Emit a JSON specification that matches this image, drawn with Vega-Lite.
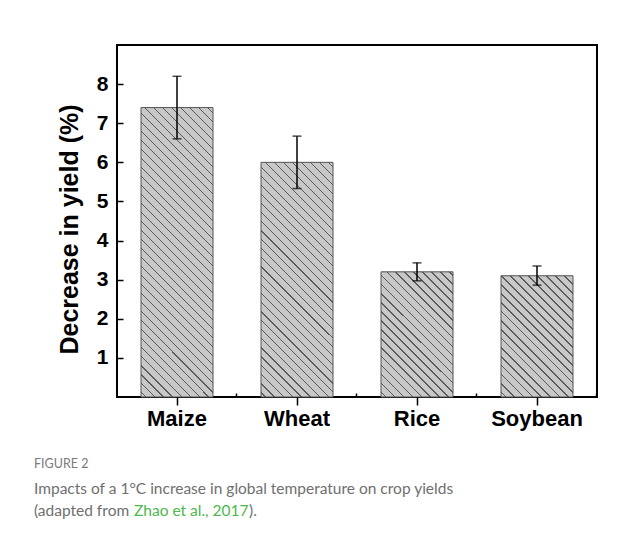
{
  "$schema": "https://vega.github.io/schema/vega-lite/v6.json",
  "width": 480,
  "height": 352,
  "autosize": {"type": "none"},
  "padding": {"left": 117, "top": 45, "right": 45, "bottom": 147},
  "background": "white",
  "config": {
    "view": {"stroke": "black", "strokeWidth": 2},
    "font": "Liberation Sans",
    "axis": {"grid": false}
  },
  "data": {
    "values": [
      {"crop": "Maize", "value": 7.4, "lo": 6.6, "hi": 8.2},
      {"crop": "Wheat", "value": 6.0, "lo": 5.33, "hi": 6.67},
      {"crop": "Rice", "value": 3.2, "lo": 2.97, "hi": 3.43},
      {"crop": "Soybean", "value": 3.1, "lo": 2.86, "hi": 3.35}
    ]
  },
  "resolve": {"axis": {"x": "independent"}},
  "layer": [
    {
      "data": {"values": [{}]},
      "mark": {"type": "rule", "x": -110, "y": -39, "y2": 520, "stroke": "#b0b0b0", "strokeWidth": 2},
      "encoding": {}
    },
    {
      "data": {"values": [{}]},
      "mark": {"type": "rule", "x": -110, "x2": 540, "y": -39, "stroke": "#b8b8b8", "strokeWidth": 2},
      "encoding": {}
    },
    {
      "mark": {"type": "bar", "fill": "#c8c8c8", "strokeWidth": 0},
      "encoding": {
        "x": {
          "field": "crop", "type": "nominal", "sort": null,
          "scale": {"domain": ["Maize", "Wheat", "Rice", "Soybean"], "paddingInner": 0.4, "paddingOuter": 0.2},
          "axis": {
            "orient": "bottom", "title": null, "domain": false,
            "tickSize": 8, "tickWidth": 1.5, "tickColor": "black",
            "labelAngle": 0, "labelFont": "Liberation Sans", "labelFontSize": 22,
            "labelFontWeight": "bold", "labelColor": "black", "labelPadding": 3, "zindex": 1
          }
        },
        "y": {
          "field": "value", "type": "quantitative",
          "scale": {"domain": [0, 9], "nice": false, "zero": true},
          "axis": {
            "values": [1, 2, 3, 4, 5, 6, 7, 8], "grid": false, "domain": false,
            "offset": -6, "tickSize": 6, "tickWidth": 1.5, "tickColor": "black",
            "labelFont": "Liberation Sans", "labelFontSize": 21, "labelFontWeight": "bold",
            "labelColor": "black", "labelPadding": 9,
            "title": "Decrease in yield (%)", "titleFont": "Liberation Sans",
            "titleFontSize": 25, "titleFontWeight": "bold", "titleColor": "black",
            "titleX": -41, "titleY": 184, "zindex": 1
          }
        }
      }
    },
    {
      "transform": [{"filter": "datum.crop === 'Maize'"}],
      "mark": {"type": "bar", "stroke": "#555555", "strokeWidth": 1,
        "fill": {"gradient": "linear", "x1": 0, "y1": 1, "x2": 0.29256, "y2": -0.176,
          "stops": [
            {"offset": 0, "color": "#c8c8c8"},
            {"offset": 0.01107, "color": "#c8c8c8"}, {"offset": 0.01107, "color": "#5a5a5a"}, {"offset": 0.01466, "color": "#5a5a5a"}, {"offset": 0.01466, "color": "#c8c8c8"},
            {"offset": 0.03597, "color": "#c8c8c8"}, {"offset": 0.03597, "color": "#5a5a5a"}, {"offset": 0.03957, "color": "#5a5a5a"}, {"offset": 0.03957, "color": "#c8c8c8"},
            {"offset": 0.06087, "color": "#c8c8c8"}, {"offset": 0.06087, "color": "#5a5a5a"}, {"offset": 0.06447, "color": "#5a5a5a"}, {"offset": 0.06447, "color": "#c8c8c8"},
            {"offset": 0.08577, "color": "#c8c8c8"}, {"offset": 0.08577, "color": "#5a5a5a"}, {"offset": 0.08937, "color": "#5a5a5a"}, {"offset": 0.08937, "color": "#c8c8c8"},
            {"offset": 0.11068, "color": "#c8c8c8"}, {"offset": 0.11068, "color": "#5a5a5a"}, {"offset": 0.11427, "color": "#5a5a5a"}, {"offset": 0.11427, "color": "#c8c8c8"},
            {"offset": 0.13558, "color": "#c8c8c8"}, {"offset": 0.13558, "color": "#5a5a5a"}, {"offset": 0.13917, "color": "#5a5a5a"}, {"offset": 0.13917, "color": "#c8c8c8"},
            {"offset": 0.16048, "color": "#c8c8c8"}, {"offset": 0.16048, "color": "#5a5a5a"}, {"offset": 0.16408, "color": "#5a5a5a"}, {"offset": 0.16408, "color": "#c8c8c8"},
            {"offset": 0.18538, "color": "#c8c8c8"}, {"offset": 0.18538, "color": "#5a5a5a"}, {"offset": 0.18898, "color": "#5a5a5a"}, {"offset": 0.18898, "color": "#c8c8c8"},
            {"offset": 0.21028, "color": "#c8c8c8"}, {"offset": 0.21028, "color": "#5a5a5a"}, {"offset": 0.21388, "color": "#5a5a5a"}, {"offset": 0.21388, "color": "#c8c8c8"},
            {"offset": 0.23519, "color": "#c8c8c8"}, {"offset": 0.23519, "color": "#5a5a5a"}, {"offset": 0.23878, "color": "#5a5a5a"}, {"offset": 0.23878, "color": "#c8c8c8"},
            {"offset": 0.26009, "color": "#c8c8c8"}, {"offset": 0.26009, "color": "#5a5a5a"}, {"offset": 0.26368, "color": "#5a5a5a"}, {"offset": 0.26368, "color": "#c8c8c8"},
            {"offset": 0.28499, "color": "#c8c8c8"}, {"offset": 0.28499, "color": "#5a5a5a"}, {"offset": 0.28859, "color": "#5a5a5a"}, {"offset": 0.28859, "color": "#c8c8c8"},
            {"offset": 0.30989, "color": "#c8c8c8"}, {"offset": 0.30989, "color": "#5a5a5a"}, {"offset": 0.31349, "color": "#5a5a5a"}, {"offset": 0.31349, "color": "#c8c8c8"},
            {"offset": 0.33479, "color": "#c8c8c8"}, {"offset": 0.33479, "color": "#5a5a5a"}, {"offset": 0.33839, "color": "#5a5a5a"}, {"offset": 0.33839, "color": "#c8c8c8"},
            {"offset": 0.3597, "color": "#c8c8c8"}, {"offset": 0.3597, "color": "#5a5a5a"}, {"offset": 0.36329, "color": "#5a5a5a"}, {"offset": 0.36329, "color": "#c8c8c8"},
            {"offset": 0.3846, "color": "#c8c8c8"}, {"offset": 0.3846, "color": "#5a5a5a"}, {"offset": 0.38819, "color": "#5a5a5a"}, {"offset": 0.38819, "color": "#c8c8c8"},
            {"offset": 0.4095, "color": "#c8c8c8"}, {"offset": 0.4095, "color": "#5a5a5a"}, {"offset": 0.4131, "color": "#5a5a5a"}, {"offset": 0.4131, "color": "#c8c8c8"},
            {"offset": 0.4344, "color": "#c8c8c8"}, {"offset": 0.4344, "color": "#5a5a5a"}, {"offset": 0.438, "color": "#5a5a5a"}, {"offset": 0.438, "color": "#c8c8c8"},
            {"offset": 0.4593, "color": "#c8c8c8"}, {"offset": 0.4593, "color": "#5a5a5a"}, {"offset": 0.4629, "color": "#5a5a5a"}, {"offset": 0.4629, "color": "#c8c8c8"},
            {"offset": 0.48421, "color": "#c8c8c8"}, {"offset": 0.48421, "color": "#5a5a5a"}, {"offset": 0.4878, "color": "#5a5a5a"}, {"offset": 0.4878, "color": "#c8c8c8"},
            {"offset": 0.50911, "color": "#c8c8c8"}, {"offset": 0.50911, "color": "#5a5a5a"}, {"offset": 0.5127, "color": "#5a5a5a"}, {"offset": 0.5127, "color": "#c8c8c8"},
            {"offset": 0.53401, "color": "#c8c8c8"}, {"offset": 0.53401, "color": "#5a5a5a"}, {"offset": 0.53761, "color": "#5a5a5a"}, {"offset": 0.53761, "color": "#c8c8c8"},
            {"offset": 0.55891, "color": "#c8c8c8"}, {"offset": 0.55891, "color": "#5a5a5a"}, {"offset": 0.56251, "color": "#5a5a5a"}, {"offset": 0.56251, "color": "#c8c8c8"},
            {"offset": 0.58381, "color": "#c8c8c8"}, {"offset": 0.58381, "color": "#5a5a5a"}, {"offset": 0.58741, "color": "#5a5a5a"}, {"offset": 0.58741, "color": "#c8c8c8"},
            {"offset": 0.60872, "color": "#c8c8c8"}, {"offset": 0.60872, "color": "#5a5a5a"}, {"offset": 0.61231, "color": "#5a5a5a"}, {"offset": 0.61231, "color": "#c8c8c8"},
            {"offset": 0.63362, "color": "#c8c8c8"}, {"offset": 0.63362, "color": "#5a5a5a"}, {"offset": 0.63721, "color": "#5a5a5a"}, {"offset": 0.63721, "color": "#c8c8c8"},
            {"offset": 0.65852, "color": "#c8c8c8"}, {"offset": 0.65852, "color": "#5a5a5a"}, {"offset": 0.66212, "color": "#5a5a5a"}, {"offset": 0.66212, "color": "#c8c8c8"},
            {"offset": 0.68342, "color": "#c8c8c8"}, {"offset": 0.68342, "color": "#5a5a5a"}, {"offset": 0.68702, "color": "#5a5a5a"}, {"offset": 0.68702, "color": "#c8c8c8"},
            {"offset": 0.70832, "color": "#c8c8c8"}, {"offset": 0.70832, "color": "#5a5a5a"}, {"offset": 0.71192, "color": "#5a5a5a"}, {"offset": 0.71192, "color": "#c8c8c8"},
            {"offset": 0.73323, "color": "#c8c8c8"}, {"offset": 0.73323, "color": "#5a5a5a"}, {"offset": 0.73682, "color": "#5a5a5a"}, {"offset": 0.73682, "color": "#c8c8c8"},
            {"offset": 0.75813, "color": "#c8c8c8"}, {"offset": 0.75813, "color": "#5a5a5a"}, {"offset": 0.76172, "color": "#5a5a5a"}, {"offset": 0.76172, "color": "#c8c8c8"},
            {"offset": 0.78303, "color": "#c8c8c8"}, {"offset": 0.78303, "color": "#5a5a5a"}, {"offset": 0.78663, "color": "#5a5a5a"}, {"offset": 0.78663, "color": "#c8c8c8"},
            {"offset": 0.80793, "color": "#c8c8c8"}, {"offset": 0.80793, "color": "#5a5a5a"}, {"offset": 0.81153, "color": "#5a5a5a"}, {"offset": 0.81153, "color": "#c8c8c8"},
            {"offset": 0.83283, "color": "#c8c8c8"}, {"offset": 0.83283, "color": "#5a5a5a"}, {"offset": 0.83643, "color": "#5a5a5a"}, {"offset": 0.83643, "color": "#c8c8c8"},
            {"offset": 0.85774, "color": "#c8c8c8"}, {"offset": 0.85774, "color": "#5a5a5a"}, {"offset": 0.86133, "color": "#5a5a5a"}, {"offset": 0.86133, "color": "#c8c8c8"},
            {"offset": 0.88264, "color": "#c8c8c8"}, {"offset": 0.88264, "color": "#5a5a5a"}, {"offset": 0.88623, "color": "#5a5a5a"}, {"offset": 0.88623, "color": "#c8c8c8"},
            {"offset": 0.90754, "color": "#c8c8c8"}, {"offset": 0.90754, "color": "#5a5a5a"}, {"offset": 0.91114, "color": "#5a5a5a"}, {"offset": 0.91114, "color": "#c8c8c8"},
            {"offset": 0.93244, "color": "#c8c8c8"}, {"offset": 0.93244, "color": "#5a5a5a"}, {"offset": 0.93604, "color": "#5a5a5a"}, {"offset": 0.93604, "color": "#c8c8c8"},
            {"offset": 0.95734, "color": "#c8c8c8"}, {"offset": 0.95734, "color": "#5a5a5a"}, {"offset": 0.96094, "color": "#5a5a5a"}, {"offset": 0.96094, "color": "#c8c8c8"},
            {"offset": 0.98225, "color": "#c8c8c8"}, {"offset": 0.98225, "color": "#5a5a5a"}, {"offset": 0.98584, "color": "#5a5a5a"}, {"offset": 0.98584, "color": "#c8c8c8"},
            {"offset": 1, "color": "#c8c8c8"}
          ]}},
      "encoding": {
        "x": {"field": "crop", "type": "nominal", "sort": null, "axis": null},
        "y": {"field": "value", "type": "quantitative"}
      }
    },
    {
      "transform": [{"filter": "datum.crop === 'Wheat'"}],
      "mark": {"type": "bar", "stroke": "#555555", "strokeWidth": 1,
        "fill": {"gradient": "linear", "x1": 0, "y1": 1, "x2": 0.36646, "y2": -0.19439,
          "stops": [
            {"offset": 0, "color": "#c8c8c8"},
            {"offset": 0.01304, "color": "#c8c8c8"}, {"offset": 0.01304, "color": "#5a5a5a"}, {"offset": 0.01728, "color": "#5a5a5a"}, {"offset": 0.01728, "color": "#c8c8c8"},
            {"offset": 0.04239, "color": "#c8c8c8"}, {"offset": 0.04239, "color": "#5a5a5a"}, {"offset": 0.04663, "color": "#5a5a5a"}, {"offset": 0.04663, "color": "#c8c8c8"},
            {"offset": 0.07174, "color": "#c8c8c8"}, {"offset": 0.07174, "color": "#5a5a5a"}, {"offset": 0.07598, "color": "#5a5a5a"}, {"offset": 0.07598, "color": "#c8c8c8"},
            {"offset": 0.10109, "color": "#c8c8c8"}, {"offset": 0.10109, "color": "#5a5a5a"}, {"offset": 0.10533, "color": "#5a5a5a"}, {"offset": 0.10533, "color": "#c8c8c8"},
            {"offset": 0.13043, "color": "#c8c8c8"}, {"offset": 0.13043, "color": "#5a5a5a"}, {"offset": 0.13467, "color": "#5a5a5a"}, {"offset": 0.13467, "color": "#c8c8c8"},
            {"offset": 0.15978, "color": "#c8c8c8"}, {"offset": 0.15978, "color": "#5a5a5a"}, {"offset": 0.16402, "color": "#5a5a5a"}, {"offset": 0.16402, "color": "#c8c8c8"},
            {"offset": 0.18913, "color": "#c8c8c8"}, {"offset": 0.18913, "color": "#5a5a5a"}, {"offset": 0.19337, "color": "#5a5a5a"}, {"offset": 0.19337, "color": "#c8c8c8"},
            {"offset": 0.21848, "color": "#c8c8c8"}, {"offset": 0.21848, "color": "#5a5a5a"}, {"offset": 0.22272, "color": "#5a5a5a"}, {"offset": 0.22272, "color": "#c8c8c8"},
            {"offset": 0.24783, "color": "#c8c8c8"}, {"offset": 0.24783, "color": "#5a5a5a"}, {"offset": 0.25207, "color": "#5a5a5a"}, {"offset": 0.25207, "color": "#c8c8c8"},
            {"offset": 0.27717, "color": "#c8c8c8"}, {"offset": 0.27717, "color": "#5a5a5a"}, {"offset": 0.28141, "color": "#5a5a5a"}, {"offset": 0.28141, "color": "#c8c8c8"},
            {"offset": 0.30652, "color": "#c8c8c8"}, {"offset": 0.30652, "color": "#5a5a5a"}, {"offset": 0.31076, "color": "#5a5a5a"}, {"offset": 0.31076, "color": "#c8c8c8"},
            {"offset": 0.33587, "color": "#c8c8c8"}, {"offset": 0.33587, "color": "#5a5a5a"}, {"offset": 0.34011, "color": "#5a5a5a"}, {"offset": 0.34011, "color": "#c8c8c8"},
            {"offset": 0.36522, "color": "#c8c8c8"}, {"offset": 0.36522, "color": "#5a5a5a"}, {"offset": 0.36946, "color": "#5a5a5a"}, {"offset": 0.36946, "color": "#c8c8c8"},
            {"offset": 0.39457, "color": "#c8c8c8"}, {"offset": 0.39457, "color": "#5a5a5a"}, {"offset": 0.39881, "color": "#5a5a5a"}, {"offset": 0.39881, "color": "#c8c8c8"},
            {"offset": 0.42391, "color": "#c8c8c8"}, {"offset": 0.42391, "color": "#5a5a5a"}, {"offset": 0.42815, "color": "#5a5a5a"}, {"offset": 0.42815, "color": "#c8c8c8"},
            {"offset": 0.45326, "color": "#c8c8c8"}, {"offset": 0.45326, "color": "#5a5a5a"}, {"offset": 0.4575, "color": "#5a5a5a"}, {"offset": 0.4575, "color": "#c8c8c8"},
            {"offset": 0.48261, "color": "#c8c8c8"}, {"offset": 0.48261, "color": "#5a5a5a"}, {"offset": 0.48685, "color": "#5a5a5a"}, {"offset": 0.48685, "color": "#c8c8c8"},
            {"offset": 0.51196, "color": "#c8c8c8"}, {"offset": 0.51196, "color": "#5a5a5a"}, {"offset": 0.5162, "color": "#5a5a5a"}, {"offset": 0.5162, "color": "#c8c8c8"},
            {"offset": 0.5413, "color": "#c8c8c8"}, {"offset": 0.5413, "color": "#5a5a5a"}, {"offset": 0.54554, "color": "#5a5a5a"}, {"offset": 0.54554, "color": "#c8c8c8"},
            {"offset": 0.57065, "color": "#c8c8c8"}, {"offset": 0.57065, "color": "#5a5a5a"}, {"offset": 0.57489, "color": "#5a5a5a"}, {"offset": 0.57489, "color": "#c8c8c8"},
            {"offset": 0.6, "color": "#c8c8c8"}, {"offset": 0.6, "color": "#5a5a5a"}, {"offset": 0.60424, "color": "#5a5a5a"}, {"offset": 0.60424, "color": "#c8c8c8"},
            {"offset": 0.62935, "color": "#c8c8c8"}, {"offset": 0.62935, "color": "#5a5a5a"}, {"offset": 0.63359, "color": "#5a5a5a"}, {"offset": 0.63359, "color": "#c8c8c8"},
            {"offset": 0.6587, "color": "#c8c8c8"}, {"offset": 0.6587, "color": "#5a5a5a"}, {"offset": 0.66294, "color": "#5a5a5a"}, {"offset": 0.66294, "color": "#c8c8c8"},
            {"offset": 0.68804, "color": "#c8c8c8"}, {"offset": 0.68804, "color": "#5a5a5a"}, {"offset": 0.69228, "color": "#5a5a5a"}, {"offset": 0.69228, "color": "#c8c8c8"},
            {"offset": 0.71739, "color": "#c8c8c8"}, {"offset": 0.71739, "color": "#5a5a5a"}, {"offset": 0.72163, "color": "#5a5a5a"}, {"offset": 0.72163, "color": "#c8c8c8"},
            {"offset": 0.74674, "color": "#c8c8c8"}, {"offset": 0.74674, "color": "#5a5a5a"}, {"offset": 0.75098, "color": "#5a5a5a"}, {"offset": 0.75098, "color": "#c8c8c8"},
            {"offset": 0.77609, "color": "#c8c8c8"}, {"offset": 0.77609, "color": "#5a5a5a"}, {"offset": 0.78033, "color": "#5a5a5a"}, {"offset": 0.78033, "color": "#c8c8c8"},
            {"offset": 0.80544, "color": "#c8c8c8"}, {"offset": 0.80544, "color": "#5a5a5a"}, {"offset": 0.80968, "color": "#5a5a5a"}, {"offset": 0.80968, "color": "#c8c8c8"},
            {"offset": 0.83478, "color": "#c8c8c8"}, {"offset": 0.83478, "color": "#5a5a5a"}, {"offset": 0.83902, "color": "#5a5a5a"}, {"offset": 0.83902, "color": "#c8c8c8"},
            {"offset": 0.86413, "color": "#c8c8c8"}, {"offset": 0.86413, "color": "#5a5a5a"}, {"offset": 0.86837, "color": "#5a5a5a"}, {"offset": 0.86837, "color": "#c8c8c8"},
            {"offset": 0.89348, "color": "#c8c8c8"}, {"offset": 0.89348, "color": "#5a5a5a"}, {"offset": 0.89772, "color": "#5a5a5a"}, {"offset": 0.89772, "color": "#c8c8c8"},
            {"offset": 0.92283, "color": "#c8c8c8"}, {"offset": 0.92283, "color": "#5a5a5a"}, {"offset": 0.92707, "color": "#5a5a5a"}, {"offset": 0.92707, "color": "#c8c8c8"},
            {"offset": 0.95217, "color": "#c8c8c8"}, {"offset": 0.95217, "color": "#5a5a5a"}, {"offset": 0.95641, "color": "#5a5a5a"}, {"offset": 0.95641, "color": "#c8c8c8"},
            {"offset": 0.98152, "color": "#c8c8c8"}, {"offset": 0.98152, "color": "#5a5a5a"}, {"offset": 0.98576, "color": "#5a5a5a"}, {"offset": 0.98576, "color": "#c8c8c8"},
            {"offset": 1, "color": "#c8c8c8"}
          ]}},
      "encoding": {
        "x": {"field": "crop", "type": "nominal", "sort": null, "axis": null},
        "y": {"field": "value", "type": "quantitative"}
      }
    },
    {
      "transform": [{"filter": "datum.crop === 'Rice'"}],
      "mark": {"type": "bar", "stroke": "#555555", "strokeWidth": 1,
        "fill": {"gradient": "linear", "x1": 0, "y1": 1, "x2": 0.68089, "y2": -0.18358,
          "stops": [
            {"offset": 0, "color": "#c8c8c8"},
            {"offset": 0.02029, "color": "#c8c8c8"}, {"offset": 0.02029, "color": "#5a5a5a"}, {"offset": 0.02688, "color": "#5a5a5a"}, {"offset": 0.02688, "color": "#c8c8c8"},
            {"offset": 0.06594, "color": "#c8c8c8"}, {"offset": 0.06594, "color": "#5a5a5a"}, {"offset": 0.07253, "color": "#5a5a5a"}, {"offset": 0.07253, "color": "#c8c8c8"},
            {"offset": 0.11159, "color": "#c8c8c8"}, {"offset": 0.11159, "color": "#5a5a5a"}, {"offset": 0.11818, "color": "#5a5a5a"}, {"offset": 0.11818, "color": "#c8c8c8"},
            {"offset": 0.15724, "color": "#c8c8c8"}, {"offset": 0.15724, "color": "#5a5a5a"}, {"offset": 0.16383, "color": "#5a5a5a"}, {"offset": 0.16383, "color": "#c8c8c8"},
            {"offset": 0.20289, "color": "#c8c8c8"}, {"offset": 0.20289, "color": "#5a5a5a"}, {"offset": 0.20948, "color": "#5a5a5a"}, {"offset": 0.20948, "color": "#c8c8c8"},
            {"offset": 0.24853, "color": "#c8c8c8"}, {"offset": 0.24853, "color": "#5a5a5a"}, {"offset": 0.25513, "color": "#5a5a5a"}, {"offset": 0.25513, "color": "#c8c8c8"},
            {"offset": 0.29418, "color": "#c8c8c8"}, {"offset": 0.29418, "color": "#5a5a5a"}, {"offset": 0.30078, "color": "#5a5a5a"}, {"offset": 0.30078, "color": "#c8c8c8"},
            {"offset": 0.33983, "color": "#c8c8c8"}, {"offset": 0.33983, "color": "#5a5a5a"}, {"offset": 0.34643, "color": "#5a5a5a"}, {"offset": 0.34643, "color": "#c8c8c8"},
            {"offset": 0.38548, "color": "#c8c8c8"}, {"offset": 0.38548, "color": "#5a5a5a"}, {"offset": 0.39208, "color": "#5a5a5a"}, {"offset": 0.39208, "color": "#c8c8c8"},
            {"offset": 0.43113, "color": "#c8c8c8"}, {"offset": 0.43113, "color": "#5a5a5a"}, {"offset": 0.43772, "color": "#5a5a5a"}, {"offset": 0.43772, "color": "#c8c8c8"},
            {"offset": 0.47678, "color": "#c8c8c8"}, {"offset": 0.47678, "color": "#5a5a5a"}, {"offset": 0.48337, "color": "#5a5a5a"}, {"offset": 0.48337, "color": "#c8c8c8"},
            {"offset": 0.52243, "color": "#c8c8c8"}, {"offset": 0.52243, "color": "#5a5a5a"}, {"offset": 0.52902, "color": "#5a5a5a"}, {"offset": 0.52902, "color": "#c8c8c8"},
            {"offset": 0.56808, "color": "#c8c8c8"}, {"offset": 0.56808, "color": "#5a5a5a"}, {"offset": 0.57467, "color": "#5a5a5a"}, {"offset": 0.57467, "color": "#c8c8c8"},
            {"offset": 0.61373, "color": "#c8c8c8"}, {"offset": 0.61373, "color": "#5a5a5a"}, {"offset": 0.62032, "color": "#5a5a5a"}, {"offset": 0.62032, "color": "#c8c8c8"},
            {"offset": 0.65938, "color": "#c8c8c8"}, {"offset": 0.65938, "color": "#5a5a5a"}, {"offset": 0.66597, "color": "#5a5a5a"}, {"offset": 0.66597, "color": "#c8c8c8"},
            {"offset": 0.70502, "color": "#c8c8c8"}, {"offset": 0.70502, "color": "#5a5a5a"}, {"offset": 0.71162, "color": "#5a5a5a"}, {"offset": 0.71162, "color": "#c8c8c8"},
            {"offset": 0.75067, "color": "#c8c8c8"}, {"offset": 0.75067, "color": "#5a5a5a"}, {"offset": 0.75727, "color": "#5a5a5a"}, {"offset": 0.75727, "color": "#c8c8c8"},
            {"offset": 0.79632, "color": "#c8c8c8"}, {"offset": 0.79632, "color": "#5a5a5a"}, {"offset": 0.80292, "color": "#5a5a5a"}, {"offset": 0.80292, "color": "#c8c8c8"},
            {"offset": 0.84197, "color": "#c8c8c8"}, {"offset": 0.84197, "color": "#5a5a5a"}, {"offset": 0.84857, "color": "#5a5a5a"}, {"offset": 0.84857, "color": "#c8c8c8"},
            {"offset": 0.88762, "color": "#c8c8c8"}, {"offset": 0.88762, "color": "#5a5a5a"}, {"offset": 0.89421, "color": "#5a5a5a"}, {"offset": 0.89421, "color": "#c8c8c8"},
            {"offset": 0.93327, "color": "#c8c8c8"}, {"offset": 0.93327, "color": "#5a5a5a"}, {"offset": 0.93986, "color": "#5a5a5a"}, {"offset": 0.93986, "color": "#c8c8c8"},
            {"offset": 0.97892, "color": "#c8c8c8"}, {"offset": 0.97892, "color": "#5a5a5a"}, {"offset": 0.98551, "color": "#5a5a5a"}, {"offset": 0.98551, "color": "#c8c8c8"},
            {"offset": 1, "color": "#c8c8c8"}
          ]}},
      "encoding": {
        "x": {"field": "crop", "type": "nominal", "sort": null, "axis": null},
        "y": {"field": "value", "type": "quantitative"}
      }
    },
    {
      "transform": [{"filter": "datum.crop === 'Soybean'"}],
      "mark": {"type": "bar", "stroke": "#555555", "strokeWidth": 1,
        "fill": {"gradient": "linear", "x1": 0, "y1": 1, "x2": 0.69973, "y2": -0.17831,
          "stops": [
            {"offset": 0, "color": "#c8c8c8"},
            {"offset": 0.0207, "color": "#c8c8c8"}, {"offset": 0.0207, "color": "#5a5a5a"}, {"offset": 0.02743, "color": "#5a5a5a"}, {"offset": 0.02743, "color": "#c8c8c8"},
            {"offset": 0.06727, "color": "#c8c8c8"}, {"offset": 0.06727, "color": "#5a5a5a"}, {"offset": 0.074, "color": "#5a5a5a"}, {"offset": 0.074, "color": "#c8c8c8"},
            {"offset": 0.11385, "color": "#c8c8c8"}, {"offset": 0.11385, "color": "#5a5a5a"}, {"offset": 0.12057, "color": "#5a5a5a"}, {"offset": 0.12057, "color": "#c8c8c8"},
            {"offset": 0.16042, "color": "#c8c8c8"}, {"offset": 0.16042, "color": "#5a5a5a"}, {"offset": 0.16715, "color": "#5a5a5a"}, {"offset": 0.16715, "color": "#c8c8c8"},
            {"offset": 0.20699, "color": "#c8c8c8"}, {"offset": 0.20699, "color": "#5a5a5a"}, {"offset": 0.21372, "color": "#5a5a5a"}, {"offset": 0.21372, "color": "#c8c8c8"},
            {"offset": 0.25356, "color": "#c8c8c8"}, {"offset": 0.25356, "color": "#5a5a5a"}, {"offset": 0.26029, "color": "#5a5a5a"}, {"offset": 0.26029, "color": "#c8c8c8"},
            {"offset": 0.30014, "color": "#c8c8c8"}, {"offset": 0.30014, "color": "#5a5a5a"}, {"offset": 0.30686, "color": "#5a5a5a"}, {"offset": 0.30686, "color": "#c8c8c8"},
            {"offset": 0.34671, "color": "#c8c8c8"}, {"offset": 0.34671, "color": "#5a5a5a"}, {"offset": 0.35344, "color": "#5a5a5a"}, {"offset": 0.35344, "color": "#c8c8c8"},
            {"offset": 0.39328, "color": "#c8c8c8"}, {"offset": 0.39328, "color": "#5a5a5a"}, {"offset": 0.40001, "color": "#5a5a5a"}, {"offset": 0.40001, "color": "#c8c8c8"},
            {"offset": 0.43986, "color": "#c8c8c8"}, {"offset": 0.43986, "color": "#5a5a5a"}, {"offset": 0.44658, "color": "#5a5a5a"}, {"offset": 0.44658, "color": "#c8c8c8"},
            {"offset": 0.48643, "color": "#c8c8c8"}, {"offset": 0.48643, "color": "#5a5a5a"}, {"offset": 0.49315, "color": "#5a5a5a"}, {"offset": 0.49315, "color": "#c8c8c8"},
            {"offset": 0.533, "color": "#c8c8c8"}, {"offset": 0.533, "color": "#5a5a5a"}, {"offset": 0.53973, "color": "#5a5a5a"}, {"offset": 0.53973, "color": "#c8c8c8"},
            {"offset": 0.57957, "color": "#c8c8c8"}, {"offset": 0.57957, "color": "#5a5a5a"}, {"offset": 0.5863, "color": "#5a5a5a"}, {"offset": 0.5863, "color": "#c8c8c8"},
            {"offset": 0.62615, "color": "#c8c8c8"}, {"offset": 0.62615, "color": "#5a5a5a"}, {"offset": 0.63287, "color": "#5a5a5a"}, {"offset": 0.63287, "color": "#c8c8c8"},
            {"offset": 0.67272, "color": "#c8c8c8"}, {"offset": 0.67272, "color": "#5a5a5a"}, {"offset": 0.67945, "color": "#5a5a5a"}, {"offset": 0.67945, "color": "#c8c8c8"},
            {"offset": 0.71929, "color": "#c8c8c8"}, {"offset": 0.71929, "color": "#5a5a5a"}, {"offset": 0.72602, "color": "#5a5a5a"}, {"offset": 0.72602, "color": "#c8c8c8"},
            {"offset": 0.76587, "color": "#c8c8c8"}, {"offset": 0.76587, "color": "#5a5a5a"}, {"offset": 0.77259, "color": "#5a5a5a"}, {"offset": 0.77259, "color": "#c8c8c8"},
            {"offset": 0.81244, "color": "#c8c8c8"}, {"offset": 0.81244, "color": "#5a5a5a"}, {"offset": 0.81917, "color": "#5a5a5a"}, {"offset": 0.81917, "color": "#c8c8c8"},
            {"offset": 0.85901, "color": "#c8c8c8"}, {"offset": 0.85901, "color": "#5a5a5a"}, {"offset": 0.86574, "color": "#5a5a5a"}, {"offset": 0.86574, "color": "#c8c8c8"},
            {"offset": 0.90558, "color": "#c8c8c8"}, {"offset": 0.90558, "color": "#5a5a5a"}, {"offset": 0.91231, "color": "#5a5a5a"}, {"offset": 0.91231, "color": "#c8c8c8"},
            {"offset": 0.95216, "color": "#c8c8c8"}, {"offset": 0.95216, "color": "#5a5a5a"}, {"offset": 0.95888, "color": "#5a5a5a"}, {"offset": 0.95888, "color": "#c8c8c8"},
            {"offset": 1, "color": "#c8c8c8"}
          ]}},
      "encoding": {
        "x": {"field": "crop", "type": "nominal", "sort": null, "axis": null},
        "y": {"field": "value", "type": "quantitative"}
      }
    },
    {
      "mark": {"type": "rule", "color": "black", "strokeWidth": 1.5},
      "encoding": {
        "x": {
          "field": "crop", "type": "nominal", "sort": null,
          "axis": {
            "orient": "bottom", "title": null, "labels": false, "domain": false,
            "tickSize": -4, "tickWidth": 1.5, "tickColor": "black",
            "bandPosition": 1.3333, "zindex": 1
          }
        },
        "y": {"field": "lo", "type": "quantitative"},
        "y2": {"field": "hi"}
      }
    },
    {
      "mark": {"type": "tick", "color": "black", "thickness": 1.5, "size": 9},
      "encoding": {
        "x": {"field": "crop", "type": "nominal", "sort": null, "axis": null},
        "y": {"field": "hi", "type": "quantitative"}
      }
    },
    {
      "mark": {"type": "tick", "color": "black", "thickness": 1.5, "size": 9},
      "encoding": {
        "x": {"field": "crop", "type": "nominal", "sort": null, "axis": null},
        "y": {"field": "lo", "type": "quantitative"}
      }
    },
    {
      "data": {"values": [{}]},
      "mark": {"type": "text", "text": "FIGURE 2", "x": -83, "y": 423, "align": "left", "baseline": "alphabetic", "font": "Lato", "fontSize": 12.5, "fill": "#7a7a7a"},
      "encoding": {}
    },
    {
      "data": {"values": [{}]},
      "mark": {"type": "text", "text": "Impacts of a 1°C increase in global temperature on crop yields", "x": -83, "y": 449, "align": "left", "baseline": "alphabetic", "font": "Lato", "fontSize": 15.5, "fill": "#6f6f6f"},
      "encoding": {}
    },
    {
      "data": {"values": [{}]},
      "mark": {"type": "text", "text": "(adapted from ", "x": -83, "y": 471, "align": "left", "baseline": "alphabetic", "font": "Lato", "fontSize": 15.5, "fill": "#6f6f6f"},
      "encoding": {}
    },
    {
      "data": {"values": [{}]},
      "mark": {"type": "text", "text": "Zhao et al., 2017", "x": 17, "y": 471, "align": "left", "baseline": "alphabetic", "font": "Lato", "fontSize": 15.5, "fill": "#4cb84c"},
      "encoding": {}
    },
    {
      "data": {"values": [{}]},
      "mark": {"type": "text", "text": ").", "x": 132, "y": 471, "align": "left", "baseline": "alphabetic", "font": "Lato", "fontSize": 15.5, "fill": "#6f6f6f"},
      "encoding": {}
    }
  ]
}
